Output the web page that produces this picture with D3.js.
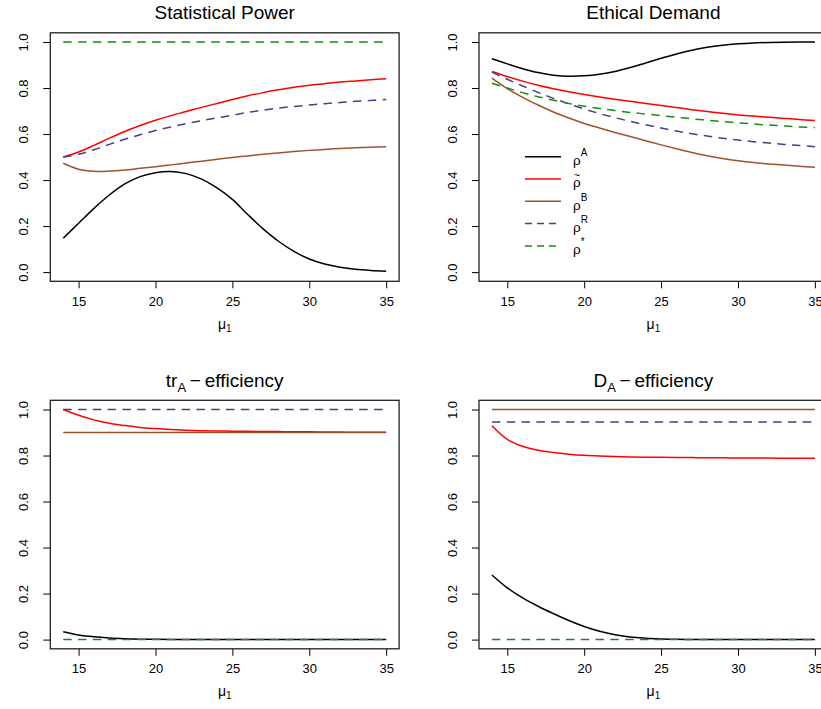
<!DOCTYPE html>
<html lang="en">
<head>
<meta charset="UTF-8">
<title>Power, ethics and efficiency vs mu1</title>
<script src="https://d3js.org/d3.v7.min.js"></script>
<style>
  body { margin: 0; background: #fff; }
  svg { display: block; font-family: "Liberation Sans", Arial, sans-serif; }
  .ttl { font-size: 19px; fill: #000; }
</style>
</head>
<body>
<svg id="chart" width="821" height="709"></svg>
<script>
// x values (mu_1)
var mu = [14, 15, 16, 17, 18, 19, 20, 21, 22, 23, 24, 25, 26, 27, 28, 29, 30, 31, 32, 33, 34, 35];
var xTicks = [15, 20, 25, 30, 35];
var yTicks = [0, 0.2, 0.4, 0.6, 0.8, 1.0];

// Statistical Power
var powerA     = [0.147, 0.212, 0.277, 0.335, 0.383, 0.415, 0.432, 0.437, 0.428, 0.404, 0.366, 0.316, 0.250, 0.188, 0.134, 0.090, 0.057, 0.035, 0.021, 0.012, 0.007, 0.004];
var powerTilde = [0.500, 0.522, 0.551, 0.582, 0.611, 0.637, 0.660, 0.680, 0.698, 0.716, 0.733, 0.750, 0.766, 0.780, 0.792, 0.803, 0.812, 0.819, 0.826, 0.831, 0.836, 0.840];
var powerB     = [0.473, 0.447, 0.438, 0.439, 0.444, 0.451, 0.458, 0.466, 0.474, 0.482, 0.490, 0.498, 0.505, 0.512, 0.518, 0.524, 0.529, 0.533, 0.537, 0.540, 0.543, 0.545];
var powerR     = [0.500, 0.512, 0.532, 0.555, 0.577, 0.597, 0.615, 0.631, 0.645, 0.658, 0.670, 0.682, 0.694, 0.704, 0.713, 0.720, 0.726, 0.732, 0.737, 0.742, 0.746, 0.750];
var powerStar  = [1, 1, 1, 1, 1, 1, 1, 1, 1, 1, 1, 1, 1, 1, 1, 1, 1, 1, 1, 1, 1, 1];

// Ethical Demand
var ethA     = [0.927, 0.905, 0.884, 0.867, 0.856, 0.851, 0.853, 0.860, 0.872, 0.889, 0.909, 0.929, 0.948, 0.964, 0.977, 0.986, 0.992, 0.996, 0.998, 0.999, 1.000, 1.000];
var ethTilde = [0.872, 0.850, 0.830, 0.812, 0.797, 0.784, 0.772, 0.761, 0.751, 0.742, 0.733, 0.724, 0.715, 0.706, 0.698, 0.690, 0.683, 0.678, 0.673, 0.668, 0.663, 0.659];
var ethB     = [0.843, 0.797, 0.759, 0.726, 0.696, 0.670, 0.646, 0.626, 0.607, 0.589, 0.571, 0.553, 0.536, 0.520, 0.506, 0.494, 0.484, 0.476, 0.470, 0.465, 0.460, 0.456];
var ethR     = [0.869, 0.838, 0.809, 0.781, 0.755, 0.731, 0.709, 0.689, 0.671, 0.655, 0.640, 0.626, 0.613, 0.601, 0.591, 0.582, 0.574, 0.567, 0.561, 0.555, 0.550, 0.545];
var ethStar  = [0.821, 0.800, 0.780, 0.762, 0.747, 0.733, 0.721, 0.711, 0.702, 0.694, 0.687, 0.680, 0.673, 0.666, 0.660, 0.654, 0.649, 0.644, 0.639, 0.635, 0.631, 0.628];

// trA - efficiency
var trA     = [0.034, 0.020, 0.012, 0.007, 0.004, 0.002, 0.001, 0, 0, 0, 0, 0, 0, 0, 0, 0, 0, 0, 0, 0, 0, 0];
var trTilde = [1.000, 0.975, 0.955, 0.940, 0.930, 0.922, 0.917, 0.913, 0.910, 0.908, 0.907, 0.906, 0.905, 0.904, 0.904, 0.903, 0.903, 0.902, 0.902, 0.901, 0.901, 0.901];
var trB     = [0.9, 0.9, 0.9, 0.9, 0.9, 0.9, 0.9, 0.9, 0.9, 0.9, 0.9, 0.9, 0.9, 0.9, 0.9, 0.9, 0.9, 0.9, 0.9, 0.9, 0.9, 0.9];
var trR     = [1, 1, 1, 1, 1, 1, 1, 1, 1, 1, 1, 1, 1, 1, 1, 1, 1, 1, 1, 1, 1, 1];
var trStar  = [0, 0, 0, 0, 0, 0, 0, 0, 0, 0, 0, 0, 0, 0, 0, 0, 0, 0, 0, 0, 0, 0];

// DA - efficiency
var dA     = [0.281, 0.225, 0.181, 0.145, 0.113, 0.083, 0.057, 0.036, 0.021, 0.011, 0.006, 0.003, 0.001, 0.0005, 0, 0, 0, 0, 0, 0, 0, 0];
var dTilde = [0.929, 0.870, 0.840, 0.823, 0.813, 0.806, 0.801, 0.798, 0.796, 0.794, 0.793, 0.792, 0.791, 0.791, 0.790, 0.790, 0.789, 0.789, 0.789, 0.788, 0.788, 0.788];
var dB     = [1, 1, 1, 1, 1, 1, 1, 1, 1, 1, 1, 1, 1, 1, 1, 1, 1, 1, 1, 1, 1, 1];
var dR     = [0.946, 0.946, 0.946, 0.946, 0.946, 0.946, 0.946, 0.946, 0.946, 0.946, 0.946, 0.946, 0.946, 0.946, 0.946, 0.946, 0.946, 0.946, 0.946, 0.946, 0.946, 0.946];
var dStar  = [0, 0, 0, 0, 0, 0, 0, 0, 0, 0, 0, 0, 0, 0, 0, 0, 0, 0, 0, 0, 0, 0];

// series styling: rho^A, rho-tilde, rho^B, rho^R, rho^*
var seriesSup   = ["A", "", "B", "R", "*"];
var seriesColor = ["#000000", "#ff0000", "#a0522d", "#483d8b", "#109010"];
var seriesDash  = [null, null, null, "8.5,6.3", "8.5,6.3"];

var panels = [
    { title: "Statistical Power", sub: null, rest: null, data: [powerA, powerTilde, powerB, powerR, powerStar], x0: 50.3, y0: 32.8, legend: false },
    { title: "Ethical Demand", sub: null, rest: null, data: [ethA, ethTilde, ethB, ethR, ethStar], x0: 479, y0: 32.8, legend: true },
    { title: "tr", sub: "A", rest: "\u2009\u2212\u2009efficiency", data: [trA, trTilde, trB, trR, trStar], x0: 50.3, y0: 400.3, legend: false },
    { title: "D", sub: "A", rest: "\u2009\u2212\u2009efficiency", data: [dA, dTilde, dB, dR, dStar], x0: 479, y0: 400.3, legend: false }
];

var boxW = 348.8, boxH = 248.5;
var svg = d3.select("#chart");

panels.forEach(function(p) {
    var g = svg.append("g").attr("transform", "translate(" + p.x0 + "," + p.y0 + ")");

    var x = d3.scaleLinear().domain([13.16, 35.84]).range([0, boxW]);
    var y = d3.scaleLinear().domain([-0.04, 1.04]).range([boxH, 0]);

    // axes
    var xAxis = g.append("g")
        .attr("transform", "translate(0," + boxH + ")")
        .call(d3.axisBottom(x).tickValues(xTicks).tickSize(7).tickPadding(8).tickFormat(d3.format("d")));
    xAxis.attr("font-size", 13).attr("font-family", null);
    xAxis.select(".domain").remove();

    var yAxis = g.append("g")
        .call(d3.axisLeft(y).tickValues(yTicks).tickSize(7).tickFormat(d3.format(".1f")));
    yAxis.attr("font-size", 13).attr("font-family", null);
    yAxis.select(".domain").remove();
    yAxis.selectAll(".tick text")
        .attr("x", null).attr("dy", null)
        .attr("transform", "translate(-22,0) rotate(-90)")
        .style("text-anchor", "middle");

    // curves
    var line = d3.line()
        .x(function(d, i) { return x(mu[i]); })
        .y(function(d) { return y(d); })
        .curve(d3.curveCatmullRom.alpha(0.5));

    p.data.forEach(function(vals, k) {
        g.append("path")
            .datum(vals)
            .attr("d", line)
            .attr("fill", "none")
            .attr("stroke", seriesColor[k])
            .attr("stroke-width", 1.5)
            .attr("stroke-dasharray", seriesDash[k]);
    });

    // box
    g.append("rect")
        .attr("width", boxW).attr("height", boxH)
        .attr("fill", "none").attr("stroke", "#222").attr("stroke-width", 1.3);

    // title
    var t = g.append("text")
        .attr("class", "ttl")
        .attr("x", boxW / 2).attr("y", -13.5)
        .attr("text-anchor", "middle");
    t.append("tspan").text(p.title);
    if (p.sub) {
        t.append("tspan").attr("dy", 5).style("font-size", "13px").text(p.sub);
        t.append("tspan").attr("dy", -5).text(p.rest);
    }

    // x label
    var xl = g.append("text")
        .attr("x", boxW / 2).attr("y", boxH + 47.5)
        .attr("text-anchor", "middle")
        .style("font-size", "14px");
    xl.append("tspan").text("\u03bc");
    xl.append("tspan").attr("dy", 3).style("font-size", "10px").text("1");

    // legend
    if (p.legend) {
        var lx = 525 - p.x0, ly = 156.7 - p.y0;
        seriesSup.forEach(function(s, k) {
            var yy = ly + k * 22.3;
            g.append("line")
                .attr("x1", lx).attr("x2", lx + 36)
                .attr("y1", yy).attr("y2", yy)
                .attr("stroke", seriesColor[k])
                .attr("stroke-width", 1.5)
                .attr("stroke-dasharray", seriesDash[k] ? "7,5" : null);
            var lt = g.append("text")
                .attr("x", lx + 48).attr("y", yy + 8.5)
                .style("font-size", "13.5px");
            lt.append("tspan").text("\u03c1");
            if (s === "") {
                // tilde placed over the rho
                lt.append("tspan").attr("dx", -7).attr("dy", -8.8).style("font-size", "10.5px").text("~");
            } else {
                lt.append("tspan").attr("dy", -9).style("font-size", "10px").text(s);
            }
        });
    }
});
</script>
</body>
</html>
